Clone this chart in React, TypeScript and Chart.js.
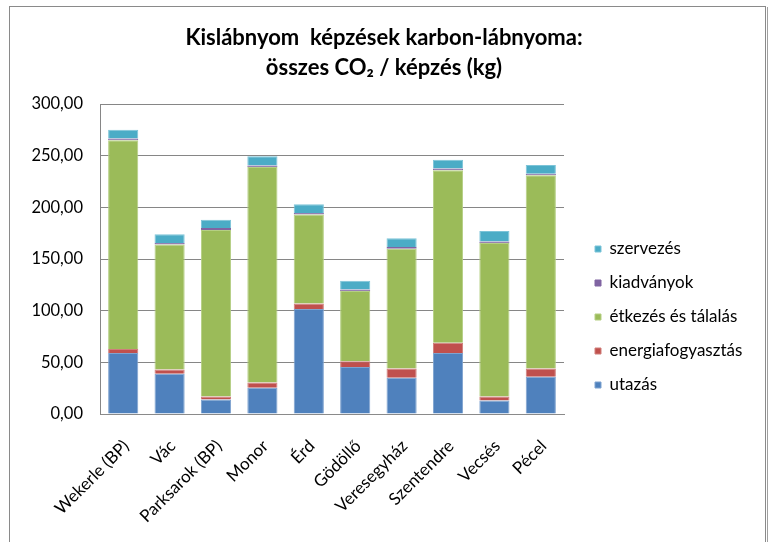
import React, { useEffect, useRef } from "react";
import { Chart, registerables } from "chart.js";

Chart.register(...registerables);

const categories = [
  "Wekerle (BP)",
  "Vác",
  "Parksarok (BP)",
  "Monor",
  "Érd",
  "Gödöllő",
  "Veresegyház",
  "Szentendre",
  "Vecsés",
  "Pécel",
];
const utazas = [59, 39, 14, 25.5, 101.5, 45.5, 35, 59, 13, 36];
const energiafogyasztas = [4, 4, 3, 5, 5.5, 5.5, 9, 10, 4, 8];
const etkezes = [202, 121, 161, 208.5, 86, 68, 116, 167, 148.5, 187];
const kiadvanyok = [1.5, 1.5, 2, 1.5, 1.5, 1.5, 1.5, 1.5, 1.5, 1.5];
const szervezes = [8.5, 8.5, 8, 9, 8.5, 8.5, 8.5, 8.5, 10, 8.5];
const yMin = 0;
const yMax = 300;
const yStep = 50;
const titleLines = ["Kislábnyom  képzések karbon-lábnyoma:", "összes CO₂ / képzés (kg)"];
const seriesLabels = ["utazás", "energiafogyasztás", "étkezés és tálalás", "kiadványok", "szervezés"];

const FONT = "Lato, 'Open Sans', sans-serif";
const W = 771;
const H = 542;
const PLOT_LEFT = 100;
const PLOT_RIGHT = 564;
const PLOT_BOTTOM = 414;
const BOTTOM_PAD = 12;
const LEGEND_FS = 17;
const LEGEND_PAD = 17;
const LEGEND_BOX = 6;
const LEGEND_BOX_X = 595;
const TITLE_CENTER = 384;

const framePlugin = {
  id: "frame",
  beforeDraw(chart: any) {
    const ctx = chart.ctx;
    ctx.save();
    ctx.fillStyle = "#ffffff";
    ctx.fillRect(0, 0, chart.width, chart.height);
    ctx.restore();
  },
  afterDraw(chart: any) {
    const ctx = chart.ctx;
    ctx.save();
    ctx.strokeStyle = "#8a8a8a";
    ctx.lineWidth = 1;
    ctx.strokeRect(9.5, 6.5, 756, 600);
    ctx.strokeStyle = "#a0a0a0";
    ctx.beginPath();
    ctx.moveTo(767.5, 7);
    ctx.lineTo(767.5, 600);
    ctx.stroke();
    ctx.restore();
  },
};

const placement = {
  id: "placement",
  afterLayout(chart: any) {
    const lg = chart.legend;
    if (lg) {
      const shift = LEGEND_BOX_X - LEGEND_PAD - lg.left;
      lg.left += shift;
      lg.right += shift;
      lg.top = chart.chartArea.top;
    }
    const tb = chart.titleBlock;
    if (tb) {
      const half = (tb.right - tb.left) / 2;
      tb.left = TITLE_CENTER - half;
      tb.right = TITLE_CENTER + half;
    }
  },
};

export default function App() {
  const ref = useRef<HTMLCanvasElement | null>(null);

  useEffect(() => {
    if (!ref.current) return;
    const m = document.createElement("canvas").getContext("2d")!;
    m.font = `${LEGEND_FS}px ${FONT}`;
    const textW = Math.max(...seriesLabels.map((t) => m.measureText(t).width));
    const legendW = LEGEND_PAD + LEGEND_BOX + LEGEND_FS / 2 + textW + 10;
    const padRight = Math.max(0, W - PLOT_RIGHT - legendW);

    const mk = (i: number, data: number[], color: string, border: string) => ({
      label: seriesLabels[i],
      data,
      backgroundColor: color,
      borderColor: border,
      borderWidth: 1,
      stack: "s",
    });

    const chart = new Chart(ref.current, {
      type: "bar",
      data: {
        labels: categories,
        datasets: [
          mk(0, utazas, "#4F81BD", "#7fa3d0"),
          mk(1, energiafogyasztas, "#C0504D", "#d07e7b"),
          mk(2, etkezes, "#9BBB59", "#b5cf83"),
          mk(3, kiadvanyok, "#8064A2", "#8064A2"),
          mk(4, szervezes, "#4BACC6", "#7cc4d8"),
        ],
      },
      options: {
        responsive: false,
        animation: false,
        layout: { padding: { left: 0, right: padRight, top: 0, bottom: BOTTOM_PAD } },
        datasets: {
          bar: { barPercentage: 0.65, categoryPercentage: 1 },
        },
        plugins: {
          title: {
            display: true,
            text: titleLines,
            color: "#000",
            font: { family: FONT, size: 22, weight: "bold", lineHeight: 30 / 22 },
            padding: { top: 23, bottom: 21 },
          },
          legend: {
            position: "right",
            reverse: true,
            labels: {
              boxWidth: LEGEND_BOX,
              boxHeight: LEGEND_BOX,
              padding: LEGEND_PAD,
              color: "#000",
              font: { family: FONT, size: LEGEND_FS },
            },
          },
          tooltip: { enabled: false },
        },
        scales: {
          x: {
            stacked: true,
            grid: { display: false, drawTicks: false },
            border: { display: true, color: "#8a8a8a", width: 1 },
            ticks: {
              autoSkip: false,
              minRotation: 45,
              maxRotation: 45,
              padding: 22,
              labelOffset: 3,
              color: "#000",
              font: { family: FONT, size: 17 },
            },
            afterFit(scale: any) {
              scale.height = H - BOTTOM_PAD - PLOT_BOTTOM;
            },
          },
          y: {
            stacked: true,
            min: yMin,
            max: yMax,
            grid: { color: "#868686", lineWidth: 1, drawTicks: false },
            border: { display: true, color: "#868686", width: 1 },
            ticks: {
              stepSize: yStep,
              padding: 17,
              color: "#000",
              font: { family: FONT, size: 16.5 },
              callback: (v: any) => Number(v).toFixed(2).replace(".", ","),
            },
            afterFit(scale: any) {
              scale.width = PLOT_LEFT;
            },
          },
        },
      } as any,
      plugins: [framePlugin, placement],
    });
    return () => chart.destroy();
  }, []);

  return (
    <div style={{ position: "absolute", left: 0, top: 0, width: W, height: H }}>
      <canvas ref={ref} width={W} height={H} />
    </div>
  );
}
